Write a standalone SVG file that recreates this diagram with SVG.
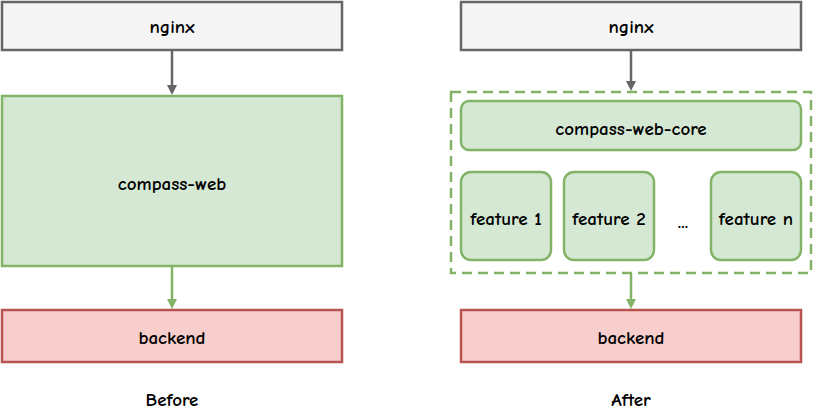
<svg xmlns="http://www.w3.org/2000/svg" width="813" height="412" viewBox="0 0 813 412">
<style>
text{font-family:"Comic Neue","Liberation Sans",sans-serif;font-size:19px;font-weight:bold;fill:#000;text-anchor:middle;dominant-baseline:central}
.gray{fill:#f5f5f5;stroke:#666;stroke-width:2.5}
.green{fill:#d5e8d4;stroke:#82b366;stroke-width:2.5}
.red{fill:#f8cecc;stroke:#b85450;stroke-width:2.5}
.dash{fill:none;stroke:#82b366;stroke-width:2.5;stroke-dasharray:10 6}
.cg{stroke:#666;stroke-width:2.5;fill:none}
.cgr{stroke:#82b366;stroke-width:2.5;fill:none}
</style>
<defs>
<marker id="ag" markerWidth="10" markerHeight="10" refX="5" refY="5" orient="auto" markerUnits="userSpaceOnUse"><path d="M0,0 L10,5 L0,10 Z" fill="#666"/></marker>
<marker id="agr" markerWidth="10" markerHeight="10" refX="5" refY="5" orient="auto" markerUnits="userSpaceOnUse"><path d="M0,0 L10,5 L0,10 Z" fill="#82b366"/></marker>
</defs>
<g id="connectors">
<line class="cg" x1="172" y1="50" x2="172" y2="90" marker-end="url(#ag)"/>
<line class="cgr" x1="172" y1="266" x2="172" y2="304" marker-end="url(#agr)"/>
<line class="cg" x1="631" y1="50" x2="631" y2="86" marker-end="url(#ag)"/>
<line class="cgr" x1="631" y1="273" x2="631" y2="304" marker-end="url(#agr)"/>
</g>
<g id="nginx-before"><rect class="gray" x="2" y="2" width="340" height="48"/><text x="172" y="27">nginx</text></g>
<g id="compass-web"><rect class="green" x="2" y="96" width="340" height="170"/><text x="172" y="184">compass-web</text></g>
<g id="backend-before"><rect class="red" x="2" y="310" width="340" height="52"/><text x="172" y="338">backend</text></g>
<g id="label-before"><text x="172" y="400">Before</text></g>
<g id="nginx-after"><rect class="gray" x="461" y="2" width="340" height="48"/><text x="631" y="27">nginx</text></g>
<g id="container"><rect class="dash" x="451" y="92" width="360" height="181"/></g>
<g id="compass-web-core"><rect class="green" x="461" y="101" width="340" height="49" rx="8"/><text x="631" y="129">compass-web-core</text></g>
<g id="feature-1"><rect class="green" x="461" y="172" width="90" height="88" rx="10"/><text x="506" y="219">feature 1</text></g>
<g id="feature-2"><rect class="green" x="564" y="172" width="90" height="88" rx="10"/><text x="609" y="219">feature 2</text></g>
<g id="ellipsis"><text x="683" y="222">...</text></g>
<g id="feature-n"><rect class="green" x="711" y="172" width="90" height="88" rx="10"/><text x="756" y="219">feature n</text></g>
<g id="backend-after"><rect class="red" x="461" y="310" width="340" height="52"/><text x="631" y="338">backend</text></g>
<g id="label-after"><text x="631" y="400">After</text></g>
</svg>
